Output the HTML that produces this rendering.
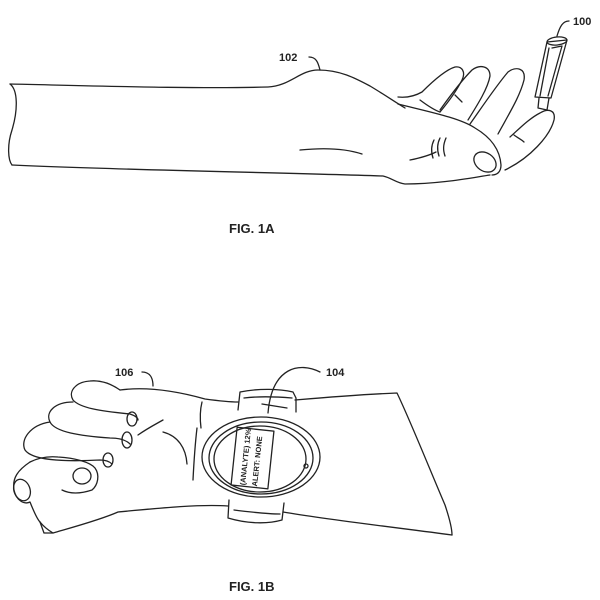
<!DOCTYPE html>
<html><head><style>
html,body{margin:0;padding:0;background:#fff;}
svg{display:block;}
text{font-family:"Liberation Sans",sans-serif;font-weight:bold;fill:#222;}
</style></head><body>
<svg width="600" height="600" viewBox="0 0 600 600" fill="none" stroke="#222" stroke-width="1.3" stroke-linecap="round" stroke-linejoin="round">
<!-- FIG 1A -->
<path d="M10 84 C100 86 200 89 268 87 C290 86 300 70 318 70 C340 70 355 78 370 86 C385 95 395 102 405 108"/>
<path d="M10 84 C18 90 18 110 12 130 C7 145 8 160 12 165"/>
<path d="M12 165 C120 170 260 172 383 176 C392 178 396 183 405 184 C440 184 470 178 490 175"/>
<path d="M398 104 C430 112 460 118 475 128 C492 138 500 150 501 165 C501 172 497 175 492 175"/>
<ellipse cx="485" cy="162" rx="12" ry="9" transform="rotate(35 485 162)"/>
<path d="M398 97 C408 98 415 96 422 92 C432 82 445 70 455 67 C462 66 466 72 462 80 C458 88 450 100 440 112"/>
<path d="M440 110 C450 96 462 80 472 70 C480 64 490 66 490 76 C488 88 478 104 468 120"/>
<path d="M455 95 C458 98 460 100 462 102"/>
<path d="M470 124 C480 110 496 86 508 72 C516 66 526 68 524 80 C520 96 510 112 498 134"/>
<path d="M510 137 C520 128 530 118 540 113 C548 108 556 110 554 120 C550 136 530 158 505 170"/>
<path d="M514 135 C518 138 522 140 524 142"/>
<path d="M420 100 C428 106 434 110 440 112"/>
<path d="M300 150 C330 147 350 150 362 154"/>
<path d="M434 140 C431 146 431 152 433 158 M440 138 C437 144 437 150 439 156 M446 138 C443 145 443 150 445 156"/>
<path d="M410 160 C420 158 430 155 436 152"/>
<!-- device 100 -->
<path d="M547 42 L567 40 L551 98 L535 97 Z"/>
<path d="M549 48 L540 96 M552 48 L562 46 L548 96"/>
<ellipse cx="557" cy="41" rx="10" ry="4" transform="rotate(-6 557 41)"/>
<path d="M539 98 L538 108 L547 110 L549 98"/>
<path d="M557 36 C560 26 563 21 569 21"/>
<path d="M309 57 C316 57 318 62 320 70"/>
<text x="279" y="61" font-size="11" stroke="none">102</text>
<text x="573" y="25" font-size="11" stroke="none">100</text>
<text x="229" y="233" font-size="13" stroke="none">FIG. 1A</text>
<!-- FIG 1B -->
<path d="M120 390 C150 386 180 392 205 399 C220 401 230 402 238 402"/>
<path d="M295 400 C330 397 370 394 397 393 C410 420 430 470 445 505 C450 520 452 530 452 535"/>
<path d="M452 535 C400 528 330 520 283 512"/>
<path d="M228 506 C200 504 160 508 118 512 C100 520 70 528 53 533 C48 530 44 527 40 522"/>
<!-- fingers -->
<path d="M120 390 C110 383 100 380 90 381 C75 382 68 392 73 400 C80 408 100 411 130 414 C136 416 138 418 138 420"/>
<ellipse cx="132" cy="419" rx="5" ry="7"/>
<path d="M73 402 C55 402 45 412 50 422 C55 432 80 436 110 438 C120 438 126 440 130 444"/>
<ellipse cx="127" cy="440" rx="5" ry="8"/>
<path d="M50 422 C30 425 20 440 25 450 C32 460 60 462 100 460 C106 460 110 462 112 464"/>
<ellipse cx="108" cy="460" rx="5" ry="7"/>
<path d="M30 462 C38 458 48 456 58 457 C75 458 90 462 95 468 C100 475 98 485 92 490 C80 494 70 494 62 490"/>
<ellipse cx="82" cy="476" rx="9" ry="8"/>
<path d="M30 462 C18 470 12 478 14 490 C16 500 24 505 30 502 C34 512 38 520 40 522"/>
<ellipse cx="22" cy="490" rx="8" ry="11" transform="rotate(-20 22 490)"/>
<path d="M40 522 L44 533 L53 533"/>
<path d="M138 435 C148 428 156 424 163 420"/>
<path d="M163 432 C178 436 186 448 187 464"/>
<path d="M197 428 C195 445 194 460 193 480"/>
<path d="M202 402 C200 410 200 420 201 428"/>
<!-- watch straps -->
<path d="M238 410 L240 392 C260 388 280 389 293 392 L296 398 L296 412"/>
<path d="M244 398 C260 396 280 397 292 398 M262 404 L287 408"/>
<path d="M229 500 L228 518 C248 524 268 524 282 520 L284 503"/>
<path d="M234 510 C250 512 266 514 280 514"/>
<!-- watch -->
<ellipse cx="261" cy="457" rx="59" ry="40"/>
<ellipse cx="261" cy="458" rx="52" ry="36"/>
<ellipse cx="260" cy="459" rx="46" ry="33"/>
<circle cx="306" cy="466" r="2"/>
<rect x="234" y="429" width="37" height="58" transform="rotate(6 252 458)"/>
<g transform="translate(252 458) rotate(-84)">
<text x="-28" y="-4" font-size="7.5" font-weight="normal" stroke="none">(ANALYTE) 12%</text>
<text x="-28" y="8" font-size="7.5" font-weight="normal" stroke="none">ALERT: NONE</text>
</g>
<!-- leaders -->
<path d="M142 372 C150 372 153 378 153 386"/>
<path d="M320 372 C300 362 272 366 268 413"/>
<text x="115" y="376" font-size="11" stroke="none">106</text>
<text x="326" y="376" font-size="11" stroke="none">104</text>
<text x="229" y="591" font-size="13" stroke="none">FIG. 1B</text>
</svg>
</body></html>
